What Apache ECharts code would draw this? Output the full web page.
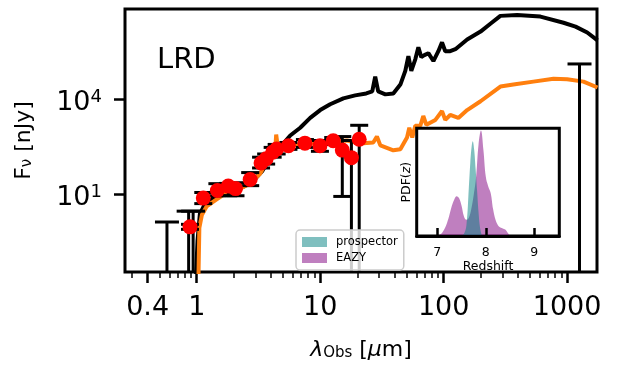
<!DOCTYPE html>
<html>
<head>
<meta charset="utf-8">
<script src="https://cdn.jsdelivr.net/npm/echarts@6/dist/echarts.min.js"></script>
<style>
  html, body { margin: 0; padding: 0; background: #fff; }
  #chart { width: 618px; height: 366px; }
</style>
</head>
<body>
<div id="chart"></div>
<script>
// wavelengths in micron, fluxes in nJy
const blackLam = [0.98, 1.015, 1.06, 1.17, 1.41, 1.80, 2.24, 2.81, 3.39, 3.93, 4.74, 5.72, 6.89, 8.30, 10.0, 12.05, 15.4, 19.2, 23.6, 26.4, 27.9, 29.5, 33.7, 39.1, 44.6, 48.9, 51.8, 54.7, 59.0, 62.4, 65.9, 69.8, 75.2, 82.6, 90.6, 97.0, 103, 113, 124.5, 155, 199, 239, 288, 394, 608, 935, 1170, 1455, 1762];
const blackFlux = [0.0132, 0.330, 2.28, 5.0, 8.0, 12.0, 14.6, 23.5, 52, 140, 300, 700, 1230, 2520, 4460, 6840, 10500, 13000, 15000, 17300, 50700, 17300, 14000, 15000, 28600, 77800, 227000, 77800, 184000, 434000, 212000, 244000, 282000, 159000, 325000, 619000, 325000, 325000, 376000, 767000, 1360000, 2410000, 4270000, 4580000, 4060000, 2590000, 1950000, 1270000, 714000];

const orangeLam = [1.03, 1.05, 1.10, 1.205, 1.45, 1.75, 2.24, 2.70, 3.26, 3.70, 4.32, 4.40, 4.56, 5.37, 6.89, 10.6, 16.5, 21.1, 26.9, 28.8, 30.7, 39.1, 44.6, 50.5, 52.7, 55.7, 58.9, 64.7, 68.4, 72.4, 85.7, 97.0, 103, 113, 131.5, 155, 199, 288, 367, 533, 776, 1000, 1358, 1762];
const orangeFlux = [0.0132, 0.836, 2.12, 4.04, 6.65, 11.0, 14.6, 20.9, 42.7, 108, 238, 746, 255, 340, 365, 421, 485, 392, 421, 647, 340, 238, 255, 603, 1230, 603, 1420, 1420, 2900, 1520, 2180, 4150, 2180, 3120, 2520, 4460, 8490, 24800, 28600, 35500, 44000, 42400, 35500, 23100];

const photLam = [0.882, 1.13, 1.47, 1.80, 2.06, 2.71, 3.32, 3.65, 4.12, 4.44, 5.53, 7.52, 9.95, 12.75, 15.1, 17.9, 20.7];
const photFlux = [0.90, 7.3, 12.7, 17.5, 14.6, 28.4, 93.8, 128, 206, 261, 333, 400, 333, 475, 241, 139, 533];
const photFluxLo = [0.75, 4.89, 8.67, 8.67, 8.67, 18.1, 65.6, 87.3, 144, 182, 255, 294, 221, 365, 8.25, 0.001, 0.001];
const photFluxHi = [1.08, 11.0, 20.9, 21.3, 22.4, 46.9, 144, 182, 294, 365, 421, 521, 485, 603, 647, 485, 1472];

const limitLam = [0.574, 0.86, 0.935, 1260];
const limitLo = [0.001, 0.001, 0.001, 0.001];
const limitHi = [1.28, 2.82, 2.82, 128500];

const xTickValues = [0.4, 1, 10, 100, 1000];
const xTickLabels = ['0.4', '1', '10', '100', '1000'];
const xMinorTicks = [0.3, 0.5, 0.6, 0.7, 0.8, 0.9, 2, 3, 4, 5, 6, 7, 8, 9, 20, 30, 40, 50, 60, 70, 80, 90, 200, 300, 400, 500, 600, 700, 800, 900];
const yTickValues = [10, 10000];
const yTickExp = ['1', '4'];

// redshift PDFs for the inset
const eazyZ = [7.0, 7.1, 7.2, 7.3, 7.35, 7.4, 7.45, 7.5, 7.55, 7.6, 7.65, 7.7, 7.75, 7.8, 7.85, 7.9, 7.95, 8.0, 8.05, 8.1, 8.15, 8.2, 8.25, 8.3, 8.4, 8.45, 8.5];
const eazyPdf = [0, 0.03, 0.12, 0.28, 0.34, 0.37, 0.35, 0.28, 0.18, 0.15, 0.17, 0.25, 0.38, 0.55, 0.85, 0.98, 0.8, 0.55, 0.46, 0.4, 0.25, 0.15, 0.1, 0.08, 0.06, 0.03, 0];
const prospZ = [7.5, 7.55, 7.6, 7.65, 7.68, 7.71, 7.73, 7.76, 7.79, 7.82, 7.85, 7.88, 7.92];
const prospPdf = [0, 0.02, 0.1, 0.45, 0.68, 0.84, 0.88, 0.8, 0.62, 0.42, 0.22, 0.08, 0];
const zTicks = [7, 8, 9];

const FONT = 'DejaVu Sans';
const lg = Math.log10;
const toLog = (xs, ys) => xs.map((x, i) => [lg(x), lg(ys[i])]);

function errorBars(capHalf) {
  return function (params, api) {
    const cs = params.coordSys;
    const bottom = cs.y + cs.height;
    const pLo = api.coord([api.value(0), api.value(1)]);
    const pHi = api.coord([api.value(0), api.value(2)]);
    const x = pLo[0];
    const yLo = Math.min(pLo[1], bottom);
    const yHi = Math.max(pHi[1], cs.y);
    const st = { stroke: '#000', lineWidth: 3 };
    const parts = [{ type: 'line', shape: { x1: x, y1: yLo, x2: x, y2: yHi }, style: st }];
    if (pHi[1] > cs.y) parts.push({ type: 'line', shape: { x1: x - capHalf, y1: yHi, x2: x + capHalf, y2: yHi }, style: st });
    if (pLo[1] < bottom) parts.push({ type: 'line', shape: { x1: x - capHalf, y1: yLo, x2: x + capHalf, y2: yLo }, style: st });
    return { type: 'group', children: parts };
  };
}

const XMIN = -0.581, XMAX = 3.242;
const YMIN = -1.475, YMAX = 6.848;

const chart = echarts.init(document.getElementById('chart'));

chart.setOption({
  animation: false,
  textStyle: { fontFamily: FONT },
  graphic: [
    { type: 'text', left: 157, top: 46, style: { text: 'LRD', font: '29px "DejaVu Sans"', fill: '#000' } }
  ],
  grid: [
    { left: 125, top: 9, width: 472, height: 268, show: true, borderColor: '#000', borderWidth: 3, backgroundColor: 'transparent' },
    { left: 416.7, top: 128.3, width: 142.6, height: 107.7, show: true, borderColor: '#000', borderWidth: 3, backgroundColor: '#fff', z: 10 }
  ],
  legend: {
    orient: 'vertical', left: 296, top: 230,
    itemWidth: 25, itemHeight: 10, itemGap: 2,
    padding: [5, 6, 5, 6],
    backgroundColor: 'rgba(255,255,255,0.8)',
    borderColor: '#cccccc', borderWidth: 1.5, borderRadius: 4,
    icon: 'rect', z: 8,
    textStyle: { fontFamily: FONT, fontSize: 11.5, color: '#000', lineHeight: 14, padding: [0, 0, 0, 4] },
    data: [
      { name: 'prospector', itemStyle: { color: 'rgba(0,128,128,0.5)' } },
      { name: 'EAZY', itemStyle: { color: 'rgba(128,0,128,0.5)' } }
    ]
  },
  xAxis: [
    {
      gridIndex: 0, type: 'value', min: XMIN, max: XMAX, position: 'bottom',
      axisLine: { show: false, onZero: false },
      splitLine: { show: false },
      axisTick: { customValues: xTickValues.map(lg), length: 11, lineStyle: { color: '#000', width: 2.5 } },
      axisLabel: {
        customValues: xTickValues.map(lg), margin: 22, fontSize: 27, color: '#000', fontFamily: FONT,
        formatter: v => xTickLabels[xTickValues.findIndex(t => Math.abs(lg(t) - v) < 1e-6)]
      },
      name: '{i|λ}{s|Obs}{n| [}{i|μ}{n|m]}',
      nameLocation: 'middle', nameGap: 67,
      nameTextStyle: {
        color: '#000',
        rich: {
          i: { fontSize: 22, fontStyle: 'italic', fontFamily: FONT, lineHeight: 22, verticalAlign: 'bottom' },
          n: { fontSize: 22, fontFamily: FONT, lineHeight: 22, verticalAlign: 'bottom' },
          s: { fontSize: 15, fontFamily: FONT, lineHeight: 15, verticalAlign: 'bottom' }
        }
      }
    },
    {
      gridIndex: 0, type: 'value', min: XMIN, max: XMAX, position: 'bottom',
      axisLine: { show: false, onZero: false }, splitLine: { show: false }, axisLabel: { show: false },
      axisTick: { customValues: xMinorTicks.map(lg), length: 6, lineStyle: { color: '#000', width: 1.5 } }
    },
    {
      gridIndex: 1, type: 'value', min: 6.575, max: 9.515, z: 12,
      axisLine: { show: true, onZero: false, lineStyle: { color: '#000', width: 3 } },
      splitLine: { show: false },
      axisTick: { inside: true, customValues: zTicks, length: 8, lineStyle: { color: '#000', width: 2.5 } },
      axisLabel: { customValues: zTicks, margin: 10, fontSize: 12.5, color: '#000', fontFamily: FONT },
      name: 'Redshift', nameLocation: 'middle', nameGap: 24,
      nameTextStyle: { fontSize: 12.5, color: '#000', fontFamily: FONT }
    }
  ],
  yAxis: [
    {
      gridIndex: 0, type: 'value', min: YMIN, max: YMAX,
      axisLine: { show: false, onZero: false }, splitLine: { show: false },
      axisTick: { customValues: yTickValues.map(lg), length: 11, lineStyle: { color: '#000', width: 2.5 } },
      axisLabel: {
        customValues: yTickValues.map(lg), margin: 23, padding: [8, 0, 0, 0],
        formatter: v => '{b|10}{s|' + yTickExp[yTickValues.findIndex(t => Math.abs(lg(t) - v) < 1e-6)] + '}',
        rich: {
          b: { fontSize: 27, fontFamily: FONT, color: '#000', lineHeight: 29 },
          s: { fontSize: 18, fontFamily: FONT, color: '#000', lineHeight: 18, verticalAlign: 'top' }
        }
      },
      name: '{n|F}{s|ν}{n| [nJy]}',
      nameLocation: 'middle', nameGap: 90,
      nameTextStyle: {
        color: '#000',
        rich: {
          n: { fontSize: 22, fontFamily: FONT, lineHeight: 24, verticalAlign: 'bottom' },
          s: { fontSize: 15, fontFamily: FONT, lineHeight: 15, verticalAlign: 'bottom' }
        }
      }
    },
    {
      gridIndex: 1, type: 'value', min: 0, max: 1, z: 12,
      axisLine: { show: false, onZero: false }, axisTick: { show: false }, axisLabel: { show: false }, splitLine: { show: false },
      name: '{n|PDF(}{i|z}{n|)}', nameLocation: 'middle', nameGap: 3,
      nameTextStyle: {
        color: '#000',
        rich: {
          n: { fontSize: 12.5, fontFamily: FONT },
          i: { fontSize: 12.5, fontFamily: FONT, fontStyle: 'italic' }
        }
      }
    }
  ],
  series: [
    {
      name: 'model', type: 'line', xAxisIndex: 0, yAxisIndex: 0, z: 2,
      data: toLog(blackLam, blackFlux), showSymbol: false, symbol: 'none',
      lineStyle: { color: '#000', width: 4 }
    },
    {
      name: 'model2', type: 'line', xAxisIndex: 0, yAxisIndex: 0, z: 3,
      data: toLog(orangeLam, orangeFlux), showSymbol: false, symbol: 'none',
      lineStyle: { color: '#ff7f0e', width: 4 }
    },
    {
      name: 'limits', type: 'custom', xAxisIndex: 0, yAxisIndex: 0, z: 4,
      renderItem: errorBars(12), encode: { x: 0, y: [1, 2] },
      data: limitLam.map((l, i) => [lg(l), lg(limitLo[i]), lg(limitHi[i])])
    },
    {
      name: 'photErr', type: 'custom', xAxisIndex: 0, yAxisIndex: 0, z: 4,
      renderItem: errorBars(9), encode: { x: 0, y: [1, 2] },
      data: photLam.map((l, i) => [lg(l), lg(photFluxLo[i]), lg(photFluxHi[i])])
    },
    {
      name: 'phot', type: 'scatter', xAxisIndex: 0, yAxisIndex: 0, z: 9,
      data: toLog(photLam, photFlux), symbol: 'circle', symbolSize: 15,
      itemStyle: { color: '#ff0000', opacity: 1 }
    },
    {
      name: 'EAZY', type: 'line', xAxisIndex: 2, yAxisIndex: 1, z: 11,
      data: eazyZ.map((z, i) => [z, eazyPdf[i]]), smooth: 0.4, showSymbol: false, symbol: 'none',
      itemStyle: { color: 'rgba(128,0,128,0.5)' },
      lineStyle: { width: 0 },
      areaStyle: { color: 'rgb(128,0,128)', opacity: 0.5 }
    },
    {
      name: 'prospector', type: 'line', xAxisIndex: 2, yAxisIndex: 1, z: 11,
      data: prospZ.map((z, i) => [z, prospPdf[i]]), smooth: 0.4, showSymbol: false, symbol: 'none',
      itemStyle: { color: 'rgba(0,128,128,0.5)' },
      lineStyle: { width: 0 },
      areaStyle: { color: 'rgb(0,128,128)', opacity: 0.5 }
    }
  ]
});
</script>
</body>
</html>
